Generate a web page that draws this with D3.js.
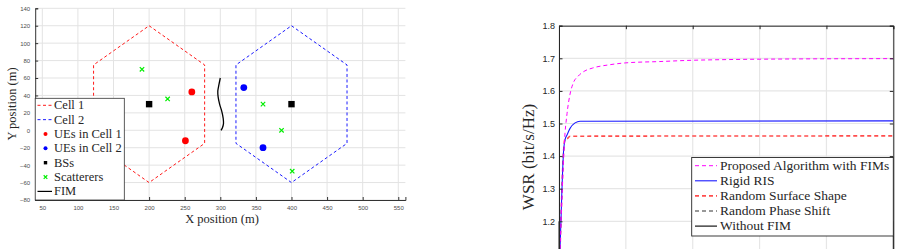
<!DOCTYPE html>
<html>
<head>
<meta charset="utf-8">
<script src="https://cdn.jsdelivr.net/npm/d3@7"></script>
<style>
  body { margin: 0; background: #fff; }
  svg { display: block; }
  .tick-l { font-family: "Liberation Sans", Arial, sans-serif; font-size: 6px; fill: #4d4d4d; }
  .tick-r { font-family: "Liberation Sans", Arial, sans-serif; font-size: 9px; fill: #262626; }
  .serif { font-family: "Liberation Serif", "Times New Roman", serif; fill: #262626; }
</style>
</head>
<body>
<svg id="chart" width="901" height="249"></svg>
<script>
// ---- left plot data: network layout ----
const xTicksL = [50, 100, 150, 200, 250, 300, 350, 400, 450, 500, 550];
const yTicksL = [-80, -60, -40, -20, 0, 20, 40, 60, 80, 100, 120, 140];
const cell1 = [[200, 120], [278, 75], [278, -15], [200, -60], [122, -15], [122, 75], [200, 120]];
const cell2 = [[400, 120], [478, 75], [478, -15], [400, -60], [322, -15], [322, 75], [400, 120]];
const uesCell1 = [[260, 44], [251, -12]];
const uesCell2 = [[333, 49], [360, -20]];
const baseStations = [[200, 30], [400, 30]];
const scatterers = [[190, 70], [226, 36], [360, 30], [386, 0], [401, -47]];
const fim = [[300, 60], [298, 52], [296.5, 45], [297, 38], [299, 30], [302, 22], [304, 14], [304.5, 8], [303, 3], [301, 0]];

// ---- right plot data: WSR vs iteration ----
const xTicksR = [0, 20, 40, 60, 80, 100];
const yTicksR = [1.0, 1.1, 1.2, 1.3, 1.4, 1.5, 1.6, 1.7, 1.8];
const yLabelsR = [1.2, 1.3, 1.4, 1.5, 1.6, 1.7, 1.8]; // labels visible in the picture
const proposed = [[0, 1.03], [1, 1.3], [1.6, 1.44], [2.4, 1.53], [3.3, 1.59], [4.3, 1.625], [5.7, 1.645], [7.5, 1.66], [10, 1.67], [15, 1.68], [20, 1.686], [30, 1.69], [40, 1.694], [50, 1.696], [70, 1.698], [100, 1.699]];
const rigidRIS = [[0, 1.03], [0.3, 1.115], [1.4, 1.42], [1.8, 1.45], [2.4, 1.465], [3.3, 1.485], [4.8, 1.502], [6.3, 1.507], [100, 1.508]];
const randomShape = [[0, 1.03], [0.3, 1.115], [1.4, 1.42], [1.8, 1.452], [2.4, 1.453], [3.3, 1.461], [100, 1.462]];
const randomPhase = [[0, 1.02], [2, 1.05], [100, 1.06]];
const withoutFIM = [[0, 1.01], [2, 1.03], [100, 1.04]];

const svg = d3.select('#chart');

// =================== left plot ===================
const xL = d3.scaleLinear().domain([40, 560]).range([35.2, 405.4]);
const yL = d3.scaleLinear().domain([-80, 140]).range([200, 8.3]);
const left = svg.append('g');

// grid
left.selectAll('.vgrid').data(xTicksL).enter().append('line')
    .attr('x1', d => xL(d)).attr('x2', d => xL(d))
    .attr('y1', yL(-80)).attr('y2', yL(140))
    .attr('stroke', '#e3e3e3').attr('stroke-width', 1);
left.selectAll('.hgrid').data(yTicksL).enter().append('line')
    .attr('x1', xL(40)).attr('x2', xL(560))
    .attr('y1', d => yL(d)).attr('y2', d => yL(d))
    .attr('stroke', '#e3e3e3').attr('stroke-width', 1);

// axes (ticks inward)
const axB = left.append('g').attr('transform', `translate(0,${yL(-80)})`)
    .call(d3.axisBottom(xL).tickValues(xTicksL).tickSize(-3).tickPadding(5));
const axLft = left.append('g').attr('transform', `translate(${xL(40)},0)`)
    .call(d3.axisLeft(yL).tickValues(yTicksL).tickSize(-3).tickPadding(5));
[axB, axLft].forEach(a => {
    a.select('.domain').attr('stroke', '#333');
    a.selectAll('.tick line').attr('stroke', '#333');
    a.selectAll('text').attr('class', 'tick-l').attr('fill', null);
});
axB.selectAll('text').attr('dy', '0.9em');

const lineL = d3.line().x(d => xL(d[0])).y(d => yL(d[1]));

left.append('path').datum(cell1).attr('d', lineL)
    .attr('fill', 'none').attr('stroke', '#ff0000').attr('stroke-width', 0.9).attr('stroke-dasharray', '3,2.5');
left.append('path').datum(cell2).attr('d', lineL)
    .attr('fill', 'none').attr('stroke', '#0000ff').attr('stroke-width', 0.9).attr('stroke-dasharray', '3,2.5');

left.append('path').datum(fim).attr('d', lineL.curve(d3.curveCatmullRom))
    .attr('fill', 'none').attr('stroke', '#000').attr('stroke-width', 1.3);
lineL.curve(d3.curveLinear);

left.selectAll('.ue1').data(uesCell1).enter().append('circle')
    .attr('cx', d => xL(d[0])).attr('cy', d => yL(d[1])).attr('r', 3.4).attr('fill', '#ff0000');
left.selectAll('.ue2').data(uesCell2).enter().append('circle')
    .attr('cx', d => xL(d[0])).attr('cy', d => yL(d[1])).attr('r', 3.4).attr('fill', '#0000ff');
left.selectAll('.bs').data(baseStations).enter().append('rect')
    .attr('x', d => xL(d[0]) - 3.2).attr('y', d => yL(d[1]) - 3.2)
    .attr('width', 6.4).attr('height', 6.4).attr('fill', '#000');

function cross(g, cx, cy, s, color) {
    g.append('path')
        .attr('d', `M${cx - s},${cy - s}L${cx + s},${cy + s}M${cx - s},${cy + s}L${cx + s},${cy - s}`)
        .attr('stroke', color).attr('stroke-width', 1.2).attr('fill', 'none');
}
scatterers.forEach(d => cross(left, xL(d[0]), yL(d[1]), 2.2, '#00ee00'));

// left legend
const legL = left.append('g');
legL.append('rect').attr('x', xL(40)).attr('y', 98.3).attr('width', 124.3 - xL(40)).attr('height', yL(-80) - 98.3)
    .attr('fill', '#fff').attr('stroke', '#333').attr('stroke-width', 0.8);
const legLItems = [
    { label: 'Cell 1', type: 'dash', color: '#ff0000' },
    { label: 'Cell 2', type: 'dash', color: '#0000ff' },
    { label: 'UEs in Cell 1', type: 'dot', color: '#ff0000' },
    { label: 'UEs in Cell 2', type: 'dot', color: '#0000ff' },
    { label: 'BSs', type: 'square', color: '#000' },
    { label: 'Scatterers', type: 'cross', color: '#00ee00' },
    { label: 'FIM', type: 'line', color: '#000' }
];
legLItems.forEach((d, i) => {
    const cy = 105.3 + i * 14.35;
    if (d.type === 'dash' || d.type === 'line') {
        legL.append('line').attr('x1', 37.5).attr('x2', 52).attr('y1', cy).attr('y2', cy)
            .attr('stroke', d.color).attr('stroke-width', d.type === 'line' ? 1.2 : 0.9)
            .attr('stroke-dasharray', d.type === 'dash' ? '3,2.5' : null);
    } else if (d.type === 'dot') {
        legL.append('circle').attr('cx', 45.5).attr('cy', cy).attr('r', 2).attr('fill', d.color);
    } else if (d.type === 'square') {
        legL.append('rect').attr('x', 43.8).attr('y', cy - 1.7).attr('width', 3.4).attr('height', 3.4).attr('fill', d.color);
    } else {
        cross(legL, 45.5, cy, 1.8, d.color);
    }
    legL.append('text').attr('class', 'serif').attr('x', 54).attr('y', cy + 4)
        .style('font-size', '12.5px').text(d.label);
});

left.append('text').attr('class', 'serif').attr('x', 222).attr('y', 223)
    .attr('text-anchor', 'middle').style('font-size', '12.5px').text('X position (m)');
left.append('text').attr('class', 'serif')
    .attr('transform', `translate(16,104) rotate(-90)`)
    .attr('text-anchor', 'middle').style('font-size', '12.5px').text('Y position (m)');

// =================== right plot ===================
const xR = d3.scaleLinear().domain([0, 100]).range([559, 893.3]);
const yR = d3.scaleLinear().domain([1.0, 1.8]).range([286.5, 25.7]);
const right = svg.append('g');

right.append('clipPath').attr('id', 'clipR').append('rect')
    .attr('x', xR(0)).attr('y', yR(1.8)).attr('width', xR(100) - xR(0)).attr('height', yR(1.0) - yR(1.8));

right.selectAll('.vgrid').data(xTicksR).enter().append('line')
    .attr('x1', d => xR(d)).attr('x2', d => xR(d))
    .attr('y1', yR(1.0)).attr('y2', yR(1.8))
    .attr('stroke', '#e6e6e6').attr('stroke-width', 1.2);
right.selectAll('.hgrid').data(yTicksR).enter().append('line')
    .attr('x1', xR(0)).attr('x2', xR(100))
    .attr('y1', d => yR(d)).attr('y2', d => yR(d))
    .attr('stroke', '#e6e6e6').attr('stroke-width', 1.2);

const lineR = d3.line().x(d => xR(d[0])).y(d => yR(d[1])).curve(d3.curveMonotoneX);
const seriesR = [
    { label: 'Proposed Algorithm with FIMs', data: proposed, color: '#ff00ff', width: 1, dash: '4,3' },
    { label: 'Rigid RIS', data: rigidRIS, color: '#1a1aff', width: 1.1, dash: null },
    { label: 'Random Surface Shape', data: randomShape, color: '#ff4d4d', width: 1.6, dash: '4,3' },
    { label: 'Random Phase Shift', data: randomPhase, color: '#333', width: 1.1, dash: '4,3' },
    { label: 'Without FIM', data: withoutFIM, color: '#000', width: 1.1, dash: null }
];
const plotR = right.append('g').attr('clip-path', 'url(#clipR)');
seriesR.slice().reverse().forEach(s => {
    plotR.append('path').datum(s.data).attr('d', lineR)
        .attr('fill', 'none').attr('stroke', s.color).attr('stroke-width', s.width)
        .attr('stroke-dasharray', s.dash);
});

// box + ticks (bottom part of the axes runs off the picture)
const axRL = right.append('g').attr('transform', `translate(${xR(0)},0)`)
    .call(d3.axisLeft(yR).tickValues(yLabelsR).tickSize(-3.5).tickPadding(4).tickFormat(d3.format('.1f')));
const axRR = right.append('g').attr('transform', `translate(${xR(100)},0)`)
    .call(d3.axisRight(yR).tickValues(yLabelsR).tickSize(-3.5).tickFormat(''));
const axRT = right.append('g').attr('transform', `translate(0,${yR(1.8)})`)
    .call(d3.axisTop(xR).tickValues(xTicksR).tickSize(-3.5).tickFormat(''));
[axRL, axRR, axRT].forEach(a => {
    a.select('.domain').attr('stroke', '#262626').attr('stroke-width', 1);
    a.selectAll('.tick line').attr('stroke', '#262626');
    a.selectAll('text').attr('class', 'tick-r').attr('fill', null);
});
// extend left/right spines to the bottom edge
[xR(0), xR(100)].forEach(x => {
    right.append('line').attr('x1', x).attr('x2', x).attr('y1', yR(1.2)).attr('y2', yR(1.0))
        .attr('stroke', '#262626').attr('stroke-width', 1);
});

// right legend
const legR = right.append('g');
legR.append('rect').attr('x', 691.7).attr('y', 157.5).attr('width', xR(100) - 691.7).attr('height', 78.5)
    .attr('fill', '#fff').attr('stroke', '#262626').attr('stroke-width', 0.9);
seriesR.forEach((s, i) => {
    const cy = 165.7 + i * 15.1;
    legR.append('line').attr('x1', 695).attr('x2', 717).attr('y1', cy).attr('y2', cy)
        .attr('stroke', s.color).attr('stroke-width', s.width).attr('stroke-dasharray', s.dash);
    legR.append('text').attr('class', 'serif').attr('x', 720).attr('y', cy + 4.3)
        .style('font-size', '13.5px').text(s.label);
});

right.append('text').attr('class', 'serif')
    .attr('transform', `translate(534,157) rotate(-90)`)
    .attr('text-anchor', 'middle').style('font-size', '17px').text('WSR (bit/s/Hz)');
</script>
</body>
</html>
